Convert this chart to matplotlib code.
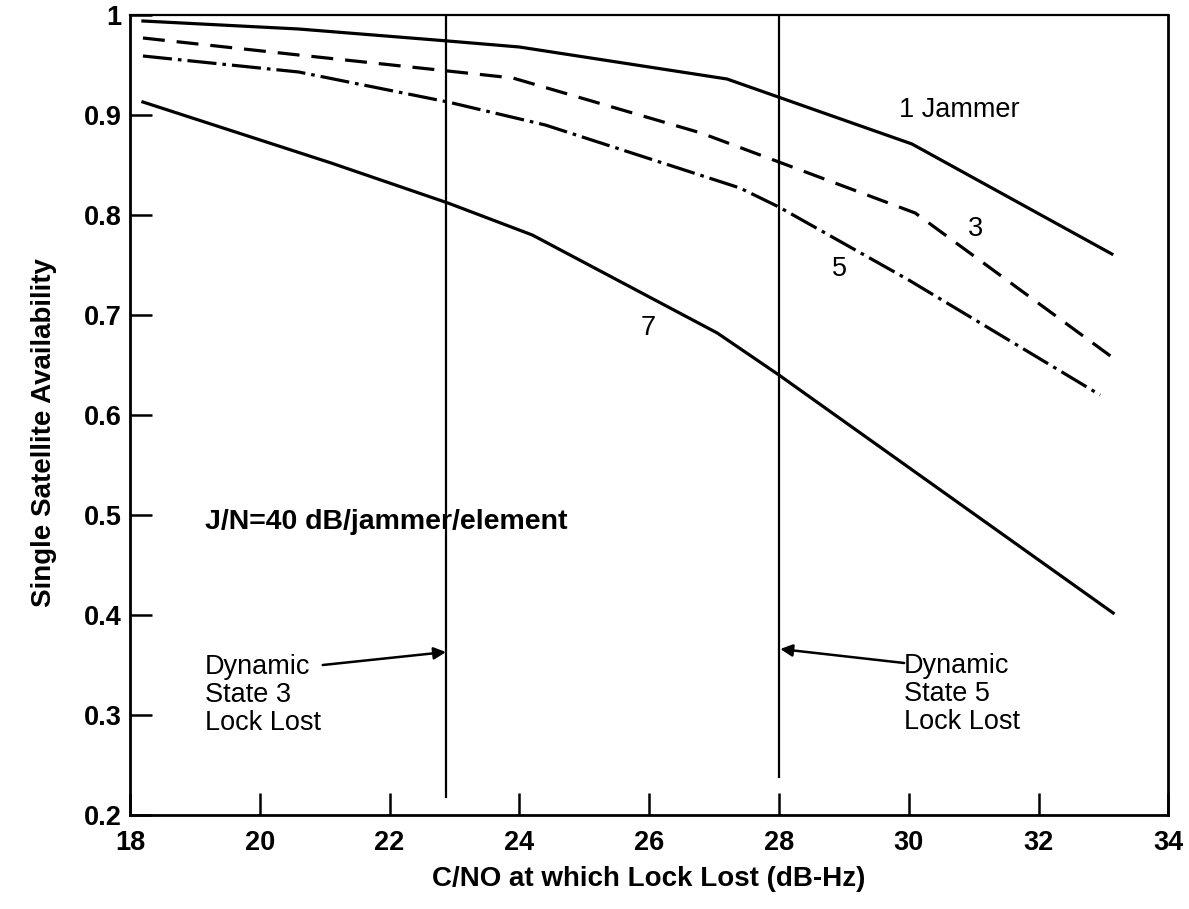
import matplotlib
matplotlib.use("Agg")
import matplotlib.pyplot as plt

plt.rcParams['font.family'] = ['Liberation Sans', 'DejaVu Sans']

# Data
x_j1 = [18.2, 20.6, 22.9, 24.0, 27.2, 30.05, 33.13]
y_j1 = [0.994, 0.986, 0.974, 0.968, 0.936, 0.871, 0.761]
x_j3 = [18.2, 20.6, 22.9, 23.9, 26.8, 28.0, 30.1, 33.13]
y_j3 = [0.977, 0.960, 0.944, 0.937, 0.882, 0.853, 0.802, 0.658]
x_j5 = [18.2, 20.6, 22.9, 24.4, 27.4, 28.0, 30.0, 32.95]
y_j5 = [0.959, 0.943, 0.913, 0.890, 0.827, 0.808, 0.735, 0.620]
x_j7 = [18.2, 21.1, 22.9, 24.2, 27.05, 28.0, 33.15]
y_j7 = [0.913, 0.852, 0.812, 0.780, 0.682, 0.640, 0.402]

x_ticks = [18, 20, 22, 24, 26, 28, 30, 32, 34]
y_ticks = [0.2, 0.3, 0.4, 0.5, 0.6, 0.7, 0.8, 0.9, 1.0]
y_ticklabels = ["0.2", "0.3", "0.4", "0.5", "0.6", "0.7", "0.8", "0.9", "1"]

lock_lost_x = [22.87, 28.0]
lock_lost_ymin = [0.218, 0.238]

fig = plt.figure(figsize=(11.89, 9.09), dpi=100)
ax = fig.add_axes([0.1093, 0.1034, 0.8733, 0.8801])

lw = 2.3
ax.plot(x_j1, y_j1, color='black', lw=lw)
ax.plot(x_j3, y_j3, color='black', lw=lw, dashes=(15.8 / lw, 8.6 / lw))
ax.plot(x_j5, y_j5, color='black', lw=lw, dashes=(21.0 / lw, 4.3 / lw, 2.6 / lw, 4.3 / lw))
ax.plot(x_j7, y_j7, color='black', lw=lw)

for xv, ymin in zip(lock_lost_x, lock_lost_ymin):
    ax.plot([xv, xv], [ymin, 1.0], color='black', lw=1.6)

ax.set_xlim(18, 34)
ax.set_ylim(0.2, 1.0)
ax.set_xticks(x_ticks)
ax.set_xticklabels([str(t) for t in x_ticks])
ax.set_yticks(y_ticks)
ax.set_yticklabels(y_ticklabels)

ax.tick_params(axis='both', direction='in', length=15.5, width=1.8,
               labelsize=19.5)
ax.tick_params(axis='x', pad=11)
ax.tick_params(axis='y', pad=6)
for lab in ax.get_xticklabels() + ax.get_yticklabels():
    lab.set_fontweight('bold')

for side in ['left', 'bottom', 'right']:
    ax.spines[side].set_linewidth(2.0)
ax.spines['top'].set_linewidth(1.6)

ax.set_xlabel("C/NO at which Lock Lost (dB-Hz)", fontsize=20, fontweight='bold')
ax.xaxis.set_label_coords(0.5, -0.064)
ax.set_ylabel("Single Satellite Availability", fontsize=20, fontweight='bold')
ax.yaxis.set_label_coords(-0.070, 0.478)

# Curve labels
ax.text(29.85, 0.905, "1 Jammer", fontsize=19.5, ha='left', va='center')
ax.text(31.03, 0.786, "3", fontsize=19.5, ha='center', va='center')
ax.text(28.94, 0.746, "5", fontsize=19.5, ha='center', va='center')
ax.text(25.98, 0.687, "7", fontsize=19.5, ha='center', va='center')

ax.text(19.16, 0.493, "J/N=40 dB/jammer/element", fontsize=20.5, fontweight='bold',
        ha='left', va='center')

# Annotations with arrows
ax.text(19.16, 0.361, "Dynamic\nState 3\nLock Lost", fontsize=19.5, ha='left',
        va='top', linespacing=1.1)
ax.annotate("", xy=(22.87, 0.363), xytext=(20.97, 0.350),
            arrowprops=dict(arrowstyle='-|>', color='black', lw=1.8,
                            mutation_scale=18, shrinkA=0, shrinkB=0))
ax.text(29.93, 0.362, "Dynamic\nState 5\nLock Lost", fontsize=19.5, ha='left',
        va='top', linespacing=1.1)
ax.annotate("", xy=(28.02, 0.366), xytext=(29.93, 0.352),
            arrowprops=dict(arrowstyle='-|>', color='black', lw=1.8,
                            mutation_scale=18, shrinkA=0, shrinkB=0))

fig.savefig("out.png", dpi=100)
